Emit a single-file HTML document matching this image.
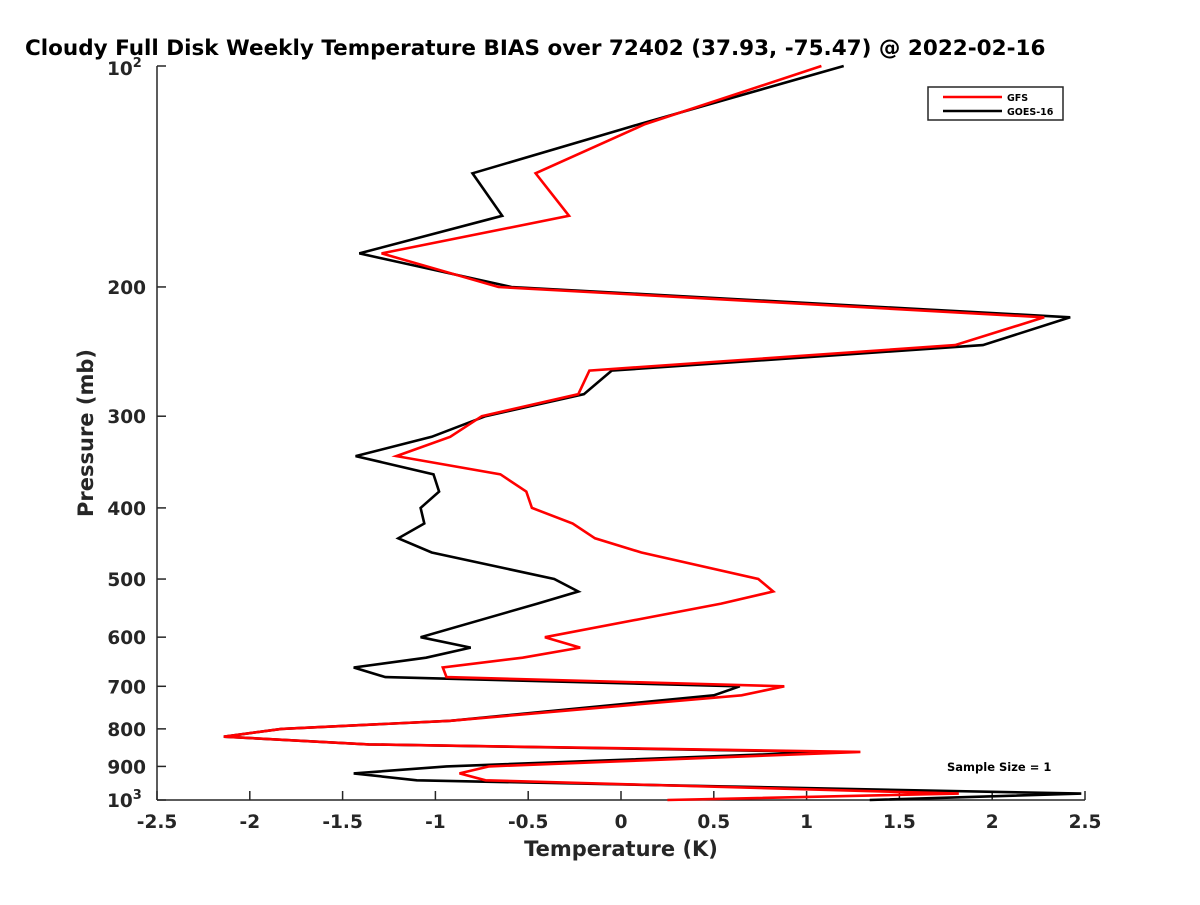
<!DOCTYPE html>
<html><head><meta charset="utf-8"><style>
body{margin:0;background:#fff}
svg text{font-family:"DejaVu Sans","Liberation Sans",sans-serif;font-weight:bold;fill:#262626}
</style></head><body>
<svg id="chart" width="1200" height="900" xmlns="http://www.w3.org/2000/svg">
<rect width="1200" height="900" fill="#fff"/>
<text x="25" y="55" font-size="21.5" style="fill:#000">Cloudy Full Disk Weekly Temperature BIAS over 72402 (37.93, -75.47) @ 2022-02-16</text>
<g id="axes"></g>
<g id="series"></g>
<g>
<rect x="928" y="87" width="135" height="33" fill="#fff" stroke="#262626" stroke-width="1.5"/>
<line x1="943" y1="97" x2="1002" y2="97" stroke="#f00" stroke-width="2.5"/>
<text x="1007" y="101" font-size="9.5" style="fill:#000">GFS</text>
<line x1="943" y1="111" x2="1002" y2="111" stroke="#000" stroke-width="2.5"/>
<text x="1007" y="115" font-size="9.5" style="fill:#000">GOES-16</text>
</g>
<text x="947" y="771" font-size="11.5" style="fill:#000">Sample Size = 1</text>
<text x="621" y="856" font-size="21" text-anchor="middle">Temperature (K)</text>
<text transform="translate(93,433) rotate(-90)" font-size="21" text-anchor="middle">Pressure (mb)</text>
</svg>
<script>
const pressures = [100,120,140,160,180,200,220,240,260,280,300,320,340,360,380,400,420,440,460,500,520,540,600,620,640,660,680,700,720,780,800,820,840,860,900,920,940,980,1000];
const gfsBias = [1.08,0.13,-0.46,-0.28,-1.29,-0.66,2.28,1.80,-0.17,-0.23,-0.75,-0.92,-1.21,-0.65,-0.51,-0.48,-0.26,-0.14,0.11,0.74,0.82,0.54,-0.41,-0.22,-0.53,-0.96,-0.94,0.88,0.65,-0.92,-1.83,-2.14,-1.36,1.29,-0.71,-0.87,-0.73,1.82,0.25];
const goesBias = [1.20,0.10,-0.80,-0.64,-1.41,-0.59,2.42,1.95,-0.05,-0.20,-0.73,-1.02,-1.43,-1.01,-0.98,-1.08,-1.06,-1.20,-1.02,-0.36,-0.23,-0.45,-1.08,-0.81,-1.05,-1.44,-1.27,0.64,0.50,-0.92,-1.83,-2.14,-1.36,1.13,-0.94,-1.44,-1.10,2.48,1.34];
const xTicks = [-2.5,-2,-1.5,-1,-0.5,0,0.5,1,1.5,2,2.5];
const xTickLabels = ["-2.5","-2","-1.5","-1","-0.5","0","0.5","1","1.5","2","2.5"];
const yTicks = [200,300,400,500,600,700,800,900];

const X0=157,X1=1085,Y0=66,Y1=800;
function xs(v){return X0+(v+2.5)/5*(X1-X0);}
function ys(p){return Y0+Math.log10(p/100)*(Y1-Y0);}
const NS="http://www.w3.org/2000/svg";
function mk(t,a,parent){const e=document.createElementNS(NS,t);for(const k in a)e.setAttribute(k,a[k]);parent.appendChild(e);return e;}
const axes=document.getElementById('axes');
const la=mk('line',{x1:X0,y1:Y0,x2:X0,y2:Y1,stroke:'#262626','stroke-width':1.5},axes);


const ba=mk('line',{x1:X0,y1:Y1,x2:X1,y2:Y1,stroke:'#262626','stroke-width':1.5},axes);


xTicks.forEach((v,i)=>{
  const x=xs(v);
  mk('line',{x1:x,y1:Y1,x2:x,y2:Y1-9,stroke:'#262626','stroke-width':1.5},axes);
  const t=mk('text',{x:x,y:Y1+28,'font-size':18.5,'text-anchor':'middle'},axes);
  t.textContent=xTickLabels[i];
  
  
});
[100,1000].concat(yTicks).forEach(p=>{
  const y=ys(p);
  mk('line',{x1:X0,y1:y,x2:X0+9,y2:y,stroke:'#262626','stroke-width':1.5},axes);
});
yTicks.forEach(p=>{
  const t=mk('text',{x:X0-11,y:ys(p)+7,'font-size':18.5,'text-anchor':'end'},axes);
  t.textContent=String(p);
  
  
});
[[100,'2'],[1000,'3']].forEach(([p,e])=>{
  const t=mk('text',{x:X0-50,y:ys(p)+(p===100?9:7),'font-size':18.5,'text-anchor':'start'},axes);
  t.textContent='10';
  const s=document.createElementNS(NS,'tspan');
  s.setAttribute('dy','-8');s.setAttribute('font-size','13');s.textContent=e;
  t.appendChild(s);
  
  
});
const series=document.getElementById('series');
function line(vals,color,name){
  const d=vals.map((v,i)=>(i?'L':'M')+xs(v).toFixed(1)+','+ys(pressures[i]).toFixed(1)).join(' ');
  const p=mk('path',{d:d,fill:'none',stroke:color,'stroke-width':2.6,'stroke-linejoin':'miter'},series);
  
  
}
line(goesBias,'#000','goes16-line');
line(gfsBias,'#f00','gfs-line');
</script>
</body></html>
